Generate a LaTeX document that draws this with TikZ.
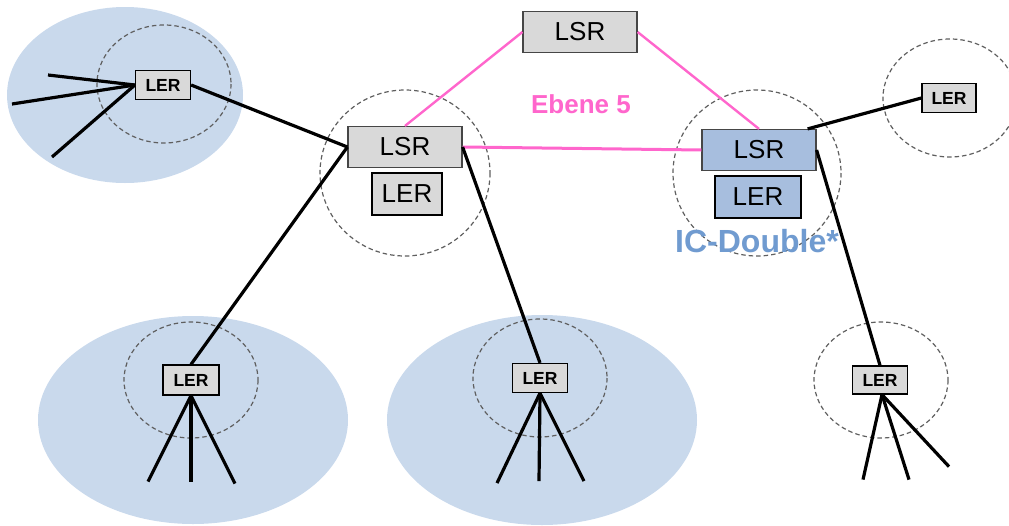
\documentclass[tikz,border=0pt]{standalone}
\usepackage{fontspec}
\setmainfont{Liberation Sans}
\definecolor{cloudblue}{RGB}{201,217,236}
\definecolor{boxgray}{RGB}{217,217,217}
\definecolor{boxblue}{RGB}{167,190,222}
\definecolor{linkpink}{RGB}{255,102,204}
\definecolor{icblue}{RGB}{112,155,208}
\tikzset{
  lsrbox/.style={draw={rgb,255:red,70;green,70;blue,70},line width=1.2pt,fill=boxgray,inner sep=0pt,
    minimum width=114pt,minimum height=41pt,font=\fontsize{26}{28}\selectfont},
  lerbig/.style={lsrbox,draw=black,minimum width=70pt,minimum height=42pt},
  lersmall/.style={draw=black,line width=1.2pt,fill=boxgray,inner sep=0pt,
    minimum width=55pt,minimum height=29pt,font=\fontsize{17.5}{19}\selectfont\bfseries},
  cloud/.style={fill=cloudblue,draw=none},
  zone/.style={draw={rgb,255:red,95;green,95;blue,95},line width=1.2pt,dash pattern=on 4.5pt off 3pt},
  link/.style={line width=3.2pt,black},
  pinklink/.style={line width=2.4pt,linkpink}
}
\begin{document}
\begin{tikzpicture}[x=1pt,y=1pt,yscale=-1,xscale=1]
\useasboundingbox (0,0) rectangle (1009,525);

%Shape: Ellipse (clouds)
\fill [cloud] (125,95) ellipse [x radius=118,y radius=88];
\fill [cloud] (193,420) ellipse [x radius=155,y radius=104];
\fill [cloud] (542,420) ellipse [x radius=155,y radius=105];

%Shape: Dashed zones
\draw [zone] (164,84) ellipse [x radius=67,y radius=59];
\draw [zone] (405,173) ellipse [x radius=85,y radius=83];
\draw [zone] (757,173) ellipse [x radius=84,y radius=83];
\draw [zone] (950,98) ellipse [x radius=67,y radius=59];
\draw [zone] (191,380) ellipse [x radius=67,y radius=58];
\draw [zone] (540,378) ellipse [x radius=67,y radius=59];
\draw [zone] (881,380) ellipse [x radius=67,y radius=58];

% Router nodes
\node [lsrbox] (toplsr) at (580,32) {LSR};
\node [lsrbox] (midlsr) at (405,147) {LSR};
\node [lerbig] (midler) at (407,194) {LER};
\node [lsrbox,fill=boxblue] (rlsr) at (759,150) {LSR};
\node [lerbig,fill=boxblue,minimum width=86pt] (rler) at (758,197) {LER};
\node [lersmall] (tlerL) at (163,85) {LER};
\node [lersmall,minimum width=54pt] (tlerR) at (949,98) {LER};
\node [lersmall,minimum width=56pt,minimum height=30pt] (blerL) at (191,380) {LER};
\node [lersmall] (blerM) at (540,378) {LER};
\node [lersmall,minimum height=28pt] (blerR) at (880,380) {LER};

% Text Node
\node [text=linkpink,font=\fontsize{26}{28}\selectfont\bfseries] (ebene) at (581,104) {Ebene 5};
% Text Node
\node [text=icblue,font=\fontsize{32}{34}\selectfont\bfseries] (icdouble) at (757,241) {IC-Double*};

%Straight Lines: level 5
\draw [pinklink] (toplsr.west) -- (midlsr.north);
\draw [pinklink] (toplsr.east) -- (rlsr.north);
\draw [pinklink,line width=3pt] (midlsr.east) -- (rlsr.west);

%Straight Lines: access links
\coordinate (a1) at (48,75);
\coordinate (a2) at (12,104);
\coordinate (a3) at (52,157);
\foreach \c in {a1,a2,a3}
  \draw [link] (tlerL.west) -- (\c);
\draw [link] (tlerL.east) -- (midlsr.west);
\draw [link] (midlsr.west) -- (blerL.north);
\draw [link] (midlsr.east) -- (blerM.north);
\draw [link] ([xshift=-9pt]rlsr.north east) -- (tlerR.west);
\draw [link] (rlsr.east) -- (blerR.north);

%Straight Lines: leaves
\foreach \dx/\dy in {-43/86,0/86,44/88}
  \draw [link] (blerL.south) -- ++(\dx,\dy);
\foreach \dx/\dy in {-43/90,-1/88,44/88}
  \draw [link] (blerM.south) -- ++(\dx,\dy);
\foreach \dx/\dy in {-19/85,27/85,67/72}
  \draw [link] ([xshift=2pt]blerR.south) -- ++(\dx,\dy);

\end{tikzpicture}
\end{document}
